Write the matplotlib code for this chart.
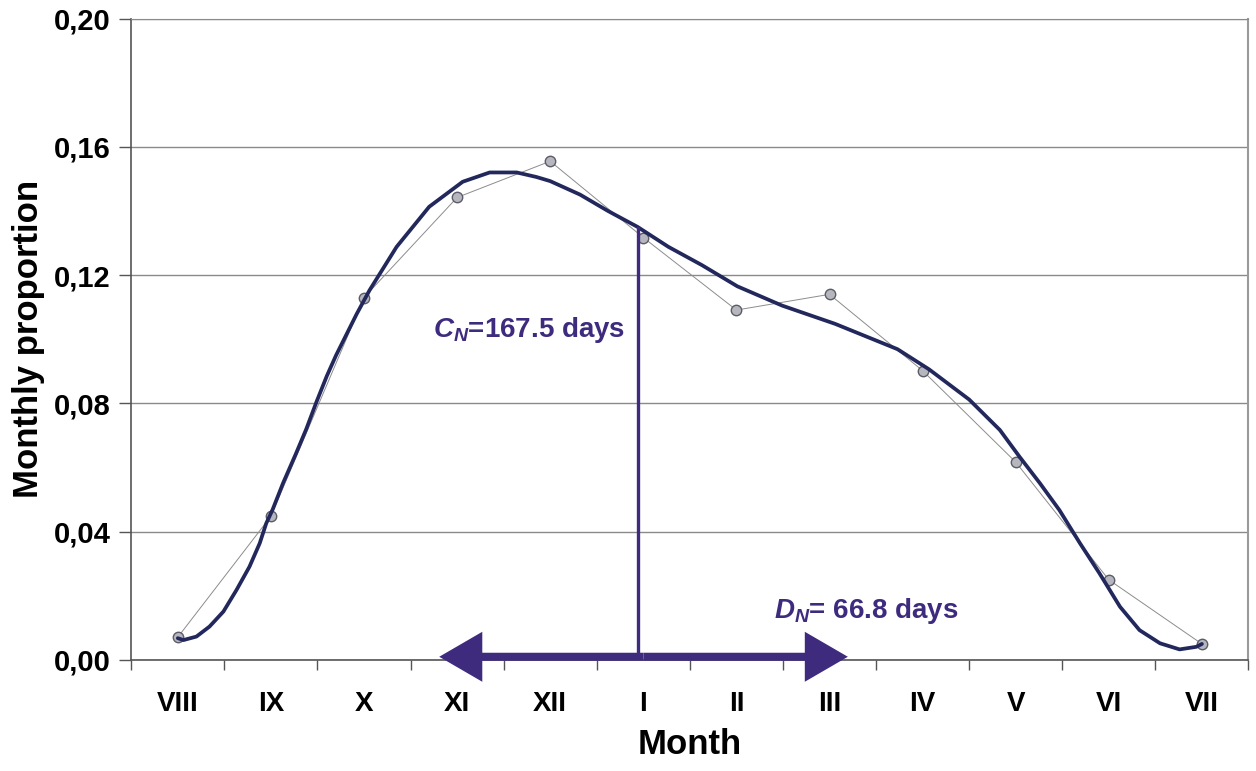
import numpy as np
import matplotlib
matplotlib.use('Agg')
from matplotlib import pyplot as plt
from matplotlib.patches import FancyArrowPatch

plt.rcParams['font.family'] = ['Liberation Sans', 'DejaVu Sans']
plt.rcParams['mathtext.fontset'] = 'custom'
plt.rcParams['mathtext.it'] = 'Liberation Sans:italic:bold'
plt.rcParams['mathtext.rm'] = 'Liberation Sans:bold'

# month labels (season starts in August)
months = ['VIII', 'IX', 'X', 'XI', 'XII', 'I', 'II', 'III', 'IV', 'V', 'VI', 'VII']
# observed monthly proportions
observed = [0.0071, 0.0448, 0.1130, 0.1442, 0.1555, 0.1317, 0.1091, 0.1140,
            0.0902, 0.0617, 0.0250, 0.0050]

# fitted curve (position in months, value)
curve_pos = [0.00, 0.06, 0.20, 0.34, 0.49, 0.63, 0.77, 0.88, 0.95, 1.02,
             1.13, 1.27, 1.38, 1.49, 1.60, 1.70, 1.92, 2.06, 2.35, 2.70, 3.06,
             3.35, 3.64, 3.85, 4.00, 4.32, 4.62, 4.94, 5.27, 5.63, 6.01,
             6.49, 7.06, 7.73, 8.07, 8.50, 8.83, 9.04, 9.26, 9.47, 9.69,
             9.90, 10.12, 10.33, 10.55, 10.76, 10.94, 11.00]
curve_val = [0.0068, 0.0062, 0.0073, 0.0104, 0.0151, 0.0218, 0.0291, 0.0364,
             0.0426, 0.0470, 0.0551, 0.0644, 0.0720, 0.0805, 0.0885, 0.0950,
             0.1078, 0.1153, 0.1288, 0.1413, 0.1491, 0.1520, 0.1520, 0.1506,
             0.1493, 0.1451, 0.1400, 0.1350, 0.1288, 0.1231, 0.1165, 0.1105,
             0.1048, 0.0969, 0.0906, 0.0812, 0.0717, 0.0634, 0.0551, 0.0467,
             0.0364, 0.0270, 0.0166, 0.0093, 0.0052, 0.0033, 0.0041, 0.0050]

# centre of gravity and dispersion (days from 1 August)
c_days = 167.5
d_days = 66.8
c_value = 0.1348
days_per_month = 30.44

purple = '#3f2b7e'
navy = '#22285c'

fig = plt.figure(figsize=(12.56, 7.71), dpi=100)
ax = fig.add_axes([0.1045, 0.144, 0.8895, 0.832])

x = np.arange(len(months))
ax.plot(x, observed, color='#8c8c8c', lw=0.7, marker='o', ms=7.5,
        mfc='#b6b6be', mec='#5c5c68', mew=1.0, zorder=3)
ax.plot(curve_pos, curve_val, color=navy, lw=2.7, zorder=4,
        solid_capstyle='round', solid_joinstyle='round')

# centre line and dispersion arrow
c_pos = -0.5 + c_days / days_per_month
d_len = d_days / days_per_month
y_arrow = 0.001
ax.plot([c_pos - 0.06, c_pos - 0.06], [y_arrow, c_value], color=purple,
        lw=2.4, zorder=5, clip_on=False)
for end in (c_pos - d_len, c_pos + d_len):
    arr = FancyArrowPatch((c_pos, y_arrow), (end, y_arrow),
                          arrowstyle='simple,head_length=1.55,head_width=1.8,tail_width=0.29',
                          mutation_scale=20, color=purple, lw=0,
                          shrinkA=0, shrinkB=0, zorder=6, clip_on=False)
    ax.add_patch(arr)

ax.text(4.81, 0.1007, r'$C_N$=167.5 days', color=purple, fontsize=20,
        fontweight='bold', ha='right', va='baseline')
ax.text(6.40, 0.0132, r'$D_N$= 66.8 days', color=purple, fontsize=20,
        fontweight='bold', ha='left', va='baseline')

ax.set_xlim(-0.5, 11.5)
ax.set_ylim(0, 0.20)
ax.set_xticks(x)
ax.set_xticklabels(months)
ax.set_xticks(np.arange(-0.5, 12, 1), minor=True)
ax.tick_params(axis='x', which='major', length=0, pad=22, labelsize=20)
ax.tick_params(axis='x', which='minor', length=7.5, width=1.0, color='#555555',
               direction='out')
ax.set_yticks([0, 0.04, 0.08, 0.12, 0.16, 0.20])
ax.set_yticklabels(['0,00', '0,04', '0,08', '0,12', '0,16', '0,20'])
ax.tick_params(axis='y', length=9, width=1.0, color='#555555', pad=6,
               labelsize=21)
for lab in ax.get_xticklabels() + ax.get_yticklabels():
    lab.set_fontweight('bold')

ax.yaxis.grid(True, color='#8a8a8a', lw=1.0)
ax.set_axisbelow(True)
ax.spines['left'].set_color('#555555')
ax.spines['bottom'].set_color('#555555')
ax.spines['left'].set_linewidth(1.2)
ax.spines['bottom'].set_linewidth(1.2)
ax.spines['top'].set_color('#8a8a8a')
ax.spines['right'].set_color('#9a9a9a')
ax.spines['right'].set_linewidth(1.5)

ax.set_xlabel('Month', fontsize=25, fontweight='bold', labelpad=8)
ax.set_ylabel('Monthly proportion', fontsize=25, fontweight='bold', labelpad=6)

fig.savefig('out.png', dpi=100)
